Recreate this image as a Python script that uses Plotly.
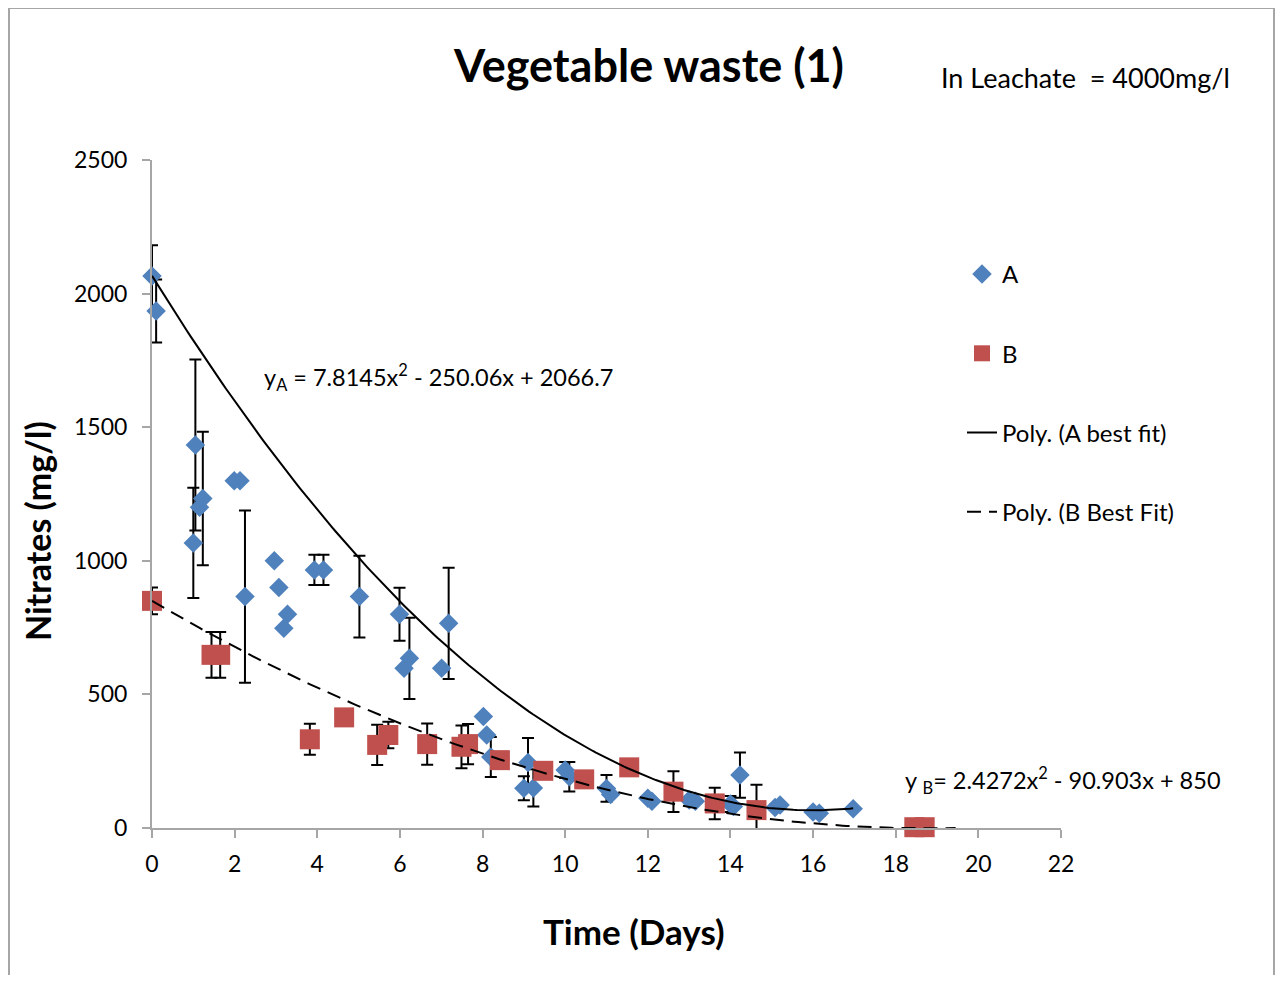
import numpy as np
import plotly.graph_objects as go

# ---- data ----
a_days = [0.0, 0.1, 1.0, 1.05, 1.15, 1.23, 1.99, 2.13, 2.25, 2.96, 3.07, 3.19, 3.28,
          3.93, 4.15, 5.02, 5.99, 6.10, 6.23, 7.01, 7.18, 8.02, 8.10, 8.20, 9.0, 9.1,
          9.23, 10.0, 10.1, 11.0, 11.1, 12.0, 12.1, 13.0, 13.15, 14.0, 14.07, 14.23,
          15.08, 15.2, 16.0, 16.15, 16.97]
a_nitrate = [2066, 1935, 1067, 1433, 1200, 1233, 1300, 1300, 866, 1000, 900, 748, 800,
             966, 966, 866, 800, 598, 635, 598, 766, 417, 348, 266, 149, 245,
             150, 217, 192, 148, 125, 111, 100, 105, 100, 90, 80, 198,
             77, 86, 60, 55, 72]
a_err = [115, 118, 206, 320, 0, 250, 0, 0, 322, 0, 0, 0, 0,
         57, 57, 153, 99, 0, 152, 0, 208, 0, 0, 75, 45, 92,
         70, 30, 55, 50, 0, 0, 0, 0, 0, 30, 0, 85,
         10, 10, 10, 10, 0]

b_days = [0.0, 1.44, 1.65, 3.82, 4.65, 5.45, 5.72, 6.66, 7.49, 7.65, 8.42, 9.47,
          10.46, 11.55, 12.62, 13.62, 14.63, 18.45, 18.7]
b_nitrate = [850, 648, 648, 332, 414, 311, 348, 314, 304, 314, 254, 214,
             182, 227, 136, 92, 67, 3, 3]
b_err = [50, 86, 86, 58, 0, 75, 50, 77, 80, 75, 0, 0,
         0, 0, 76, 59, 95, 0, 0]

# trendline coefficients shown on the chart (c2, c1, c0)
fit_a = [7.8145, -250.06, 2066.7]
fit_a_range = [0, 16.97]
fit_b = [2.4272, -90.903, 850]
fit_b_range = [0, 19.45]

x_ticks = [0, 2, 4, 6, 8, 10, 12, 14, 16, 18, 20, 22]
y_ticks = [0, 500, 1000, 1500, 2000, 2500]

FONT = "Lato"
BLUE = "#4F81BD"
RED = "#C0504D"

xa = np.linspace(fit_a_range[0], fit_a_range[1], 200)
ya = np.polyval(fit_a, xa)
xb = np.linspace(fit_b_range[0], fit_b_range[1], 200)
yb = np.polyval(fit_b, xb)

fig = go.Figure()
fig.add_trace(go.Scatter(
    x=a_days, y=a_nitrate, mode="markers", name="A", legendgroup="a",
    cliponaxis=False,
    marker=dict(symbol="diamond", size=15, color=BLUE),
    error_y=dict(type="data", array=a_err, visible=True, color="black",
                 thickness=2, width=6)))
fig.add_trace(go.Scatter(
    x=b_days, y=b_nitrate, mode="markers", name="B", legendgroup="b",
    cliponaxis=False,
    marker=dict(symbol="square", size=20, color=RED),
    error_y=dict(type="data", array=b_err, visible=True, color="black",
                 thickness=2, width=6)))
fig.add_trace(go.Scatter(
    x=xa, y=ya, mode="lines", name="Poly. (A best fit)", legendgroup="c",
    line=dict(color="black", width=2)))
fig.add_trace(go.Scatter(
    x=xb, y=yb, mode="lines", name="Poly. (B Best Fit)", legendgroup="d",
    line=dict(color="black", width=2, dash="14px,8px")))

# the page body adds an 8px margin on each side; work in reference pixels
OFF = 8
FIG_W, FIG_H = 1284 - 2 * OFF, 983 - 2 * OFF
PL, PR, PT, PB = 152, 1061, 160, 828   # plot area in reference pixels
W = PR - PL
H = PB - PT

def px(xp):
    return (xp - PL) / W

def py(yp):
    return (PB - yp) / H

axis_common = dict(showgrid=False, zeroline=False, showline=True,
                   linecolor="#A6A6A6", linewidth=2, ticks="outside",
                   ticklen=8, tickwidth=2, tickcolor="#A6A6A6",
                   tickfont=dict(family=FONT, size=23, color="black"))

fig.update_layout(
    width=FIG_W, height=FIG_H,
    margin=dict(l=PL - OFF, r=FIG_W - (PR - OFF), t=PT - OFF, b=FIG_H - (PB - OFF)),
    paper_bgcolor="white", plot_bgcolor="white",
    font=dict(family=FONT, color="black"),
    showlegend=True,
    legend=dict(x=px(962), y=py(252), xanchor="left", yanchor="top",
                font=dict(family=FONT, size=24, color="black"),
                traceorder="grouped", tracegroupgap=45,
                bgcolor="rgba(0,0,0,0)"),
    xaxis=dict(range=[0, 22], tickvals=x_ticks, ticklabelstandoff=6,
               **axis_common),
    yaxis=dict(range=[0, 2500], tickvals=y_ticks, ticklabelstandoff=10,
               **axis_common),
)

annotations = [
    dict(text="<b>Vegetable waste (1)</b>", x=px(648), y=py(65),
         font=dict(size=45, family=FONT)),
    dict(text="In Leachate  = 4000mg/l", x=px(1085), y=py(77),
         font=dict(size=27, family=FONT)),
    dict(text="<b>Time (Days)</b>", x=px(634), y=py(931),
         font=dict(size=35, family=FONT)),
    dict(text="<b>Nitrates (mg/l)</b>", x=px(37), y=py(531), textangle=-90,
         font=dict(size=34, family=FONT)),
    dict(text="y<sub>A</sub> = 7.8145x<sup>2</sup> - 250.06x + 2066.7",
         x=px(262), y=py(377), xanchor="left",
         font=dict(size=23.5, family=FONT)),
    dict(text="y <sub>B</sub>= 2.4272x<sup>2</sup> - 90.903x + 850",
         x=px(903), y=py(780), xanchor="left",
         font=dict(size=23.5, family=FONT)),
]
for a in annotations:
    a.setdefault("xanchor", "center")
    fig.add_annotation(xref="paper", yref="paper", showarrow=False,
                       yanchor="middle", font_color="black", **a)

# outer chart-area border (right edge kept just inside the figure)
fig.add_shape(type="rect", xref="paper", yref="paper",
              x0=px(9), x1=px(OFF + FIG_W - 2), y0=py(1000), y1=py(8),
              line=dict(color="#A6A6A6", width=2), fillcolor="rgba(0,0,0,0)",
              layer="below")

fig.write_html("out.html")
